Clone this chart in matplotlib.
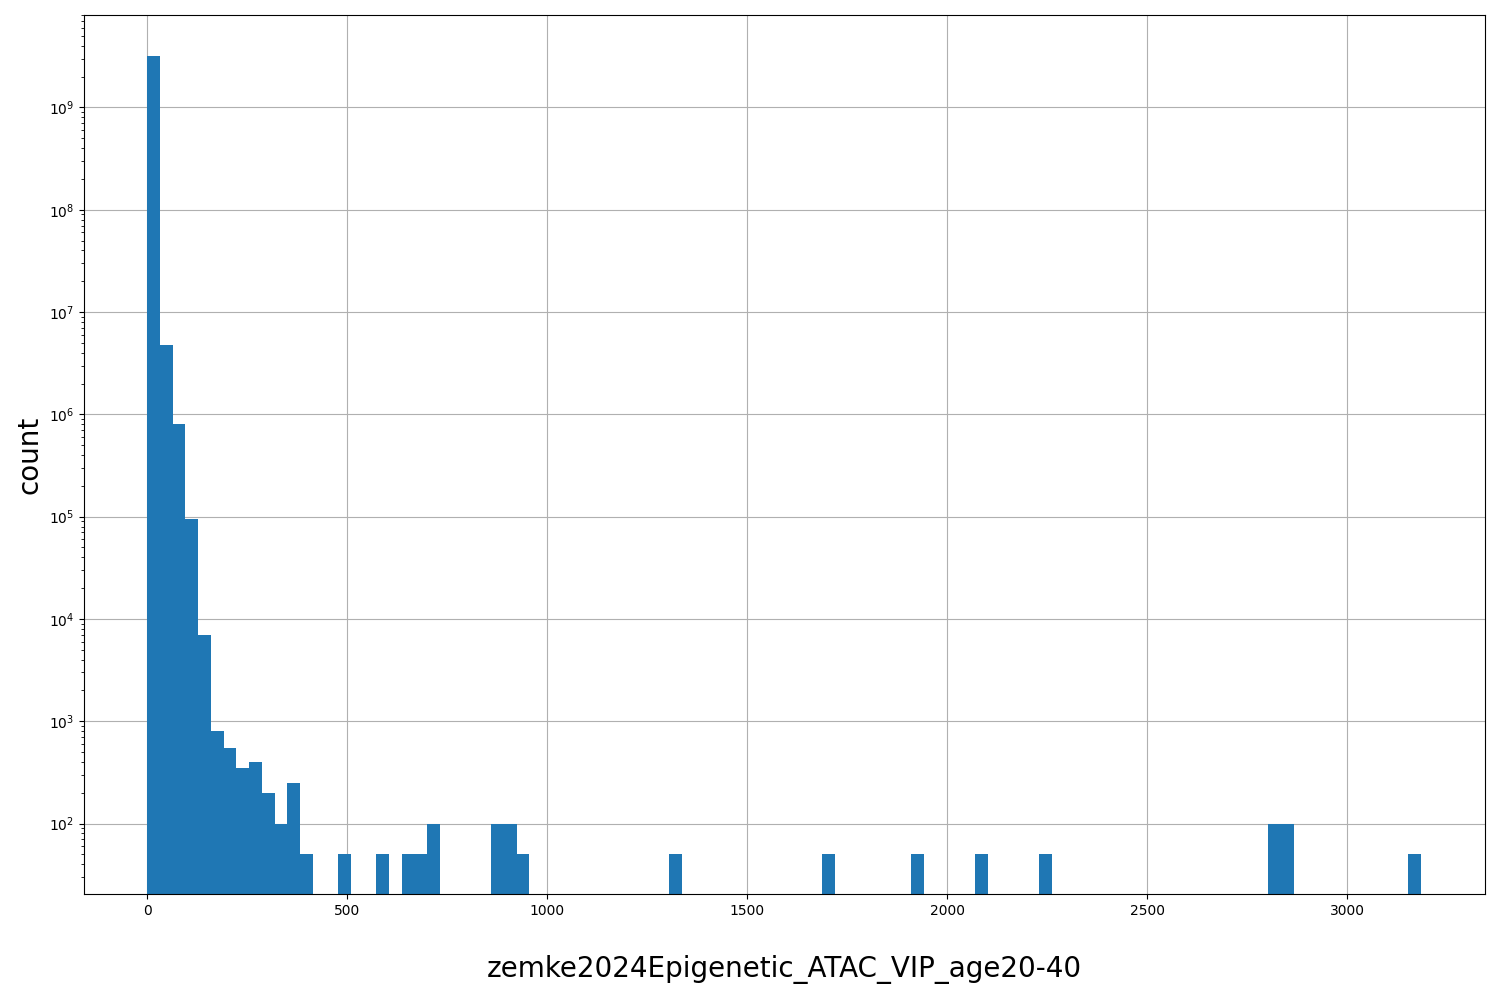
import numpy as np
import matplotlib
matplotlib.use("Agg")
import matplotlib.pyplot as plt

x_min, x_max, n_bins = 0.0, 3185.0, 100
bin_index = [0, 1, 2, 3, 4, 5, 6, 7, 8, 9, 10, 11, 12, 15, 18, 20, 21, 22, 27, 28, 29, 41, 53, 60, 65, 70, 88, 89, 99]
counts = [3.2e9, 4.8e6, 8.1e5, 9.5e4, 7.0e3, 800, 550, 350, 400, 200, 100, 250, 50, 50, 50, 50, 50, 100, 100, 100, 50, 50, 50, 50, 50, 50, 100, 100, 50]

edges = np.linspace(x_min, x_max, n_bins + 1)
centers = (edges[:-1] + edges[1:]) / 2
vals = centers[bin_index]

fig = plt.figure(figsize=(15, 10), dpi=100)
ax = fig.add_axes([0.056, 0.106, 0.934, 0.879])
ax.hist(vals, bins=edges, weights=counts, color="#1f77b4", log=True)
ax.set_ylim(20.5, 8e9)
ax.set_xlim(-158, 3345)
ax.grid(True)
ax.set_axisbelow(True)
ax.set_xlabel("zemke2024Epigenetic_ATAC_VIP_age20-40", fontsize=20, labelpad=27)
ax.set_ylabel("count", fontsize=20)
fig.savefig("out.png")
